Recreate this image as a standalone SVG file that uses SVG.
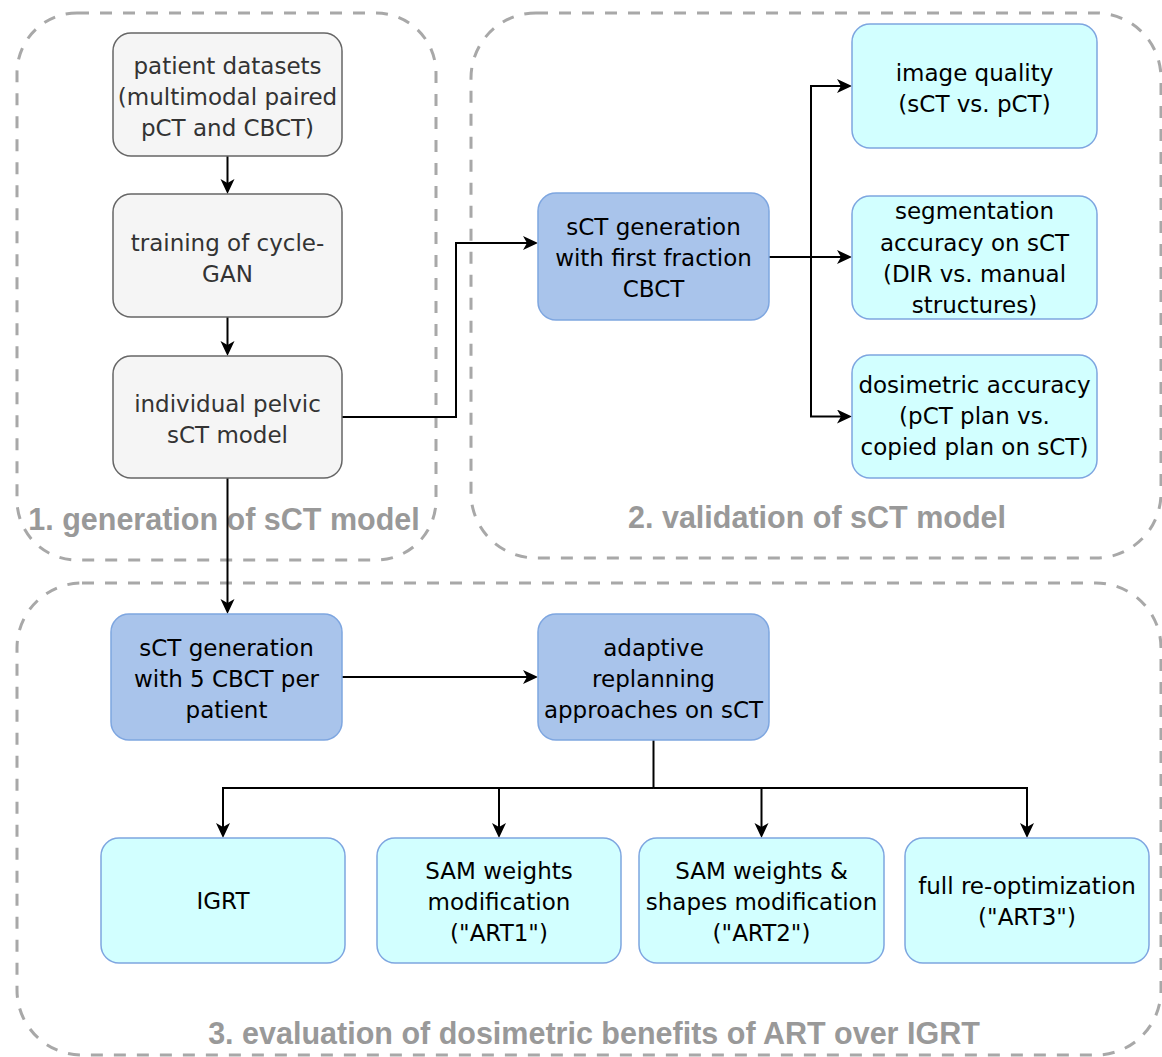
<svg xmlns="http://www.w3.org/2000/svg" width="1162" height="1057" viewBox="0 0 1162 1057">
<defs>
<style>
.grp{fill:none;stroke:#A8A8A8;stroke-width:3;stroke-dasharray:12 11}
.glabel{font-family:"Liberation Sans",Arial,sans-serif;font-weight:bold;font-size:30.5px;fill:#999999;text-anchor:middle}
.gray rect{fill:#F5F5F5;stroke:#666666;stroke-width:1.5}
.blue rect{fill:#A9C4EB;stroke:#7EA6E0;stroke-width:1.5}
.cyan rect{fill:#D2FFFF;stroke:#7EA6E0;stroke-width:1.5}
text.t{font-family:"DejaVu Sans",Verdana,sans-serif;font-size:23px;text-anchor:middle}
.gray text{fill:#333333}
.blue text,.cyan text{fill:#000000}
.conn path{fill:none;stroke:#000000;stroke-width:2;marker-end:url(#arr)}
.conn path.plain{marker-end:none}
</style>
<marker id="arr" markerUnits="userSpaceOnUse" markerWidth="18" markerHeight="18" refX="11" refY="7" orient="auto">
<path d="M0,0 L15,7 L0,14 L4,7 Z" fill="#000000"/>
</marker>
</defs>
<rect width="1162" height="1057" fill="#FFFFFF"/>

<g id="group1">
<rect class="grp" x="17" y="13" width="419" height="547" rx="60" ry="60"/>
<text class="glabel" x="224" y="530">1. generation of sCT model</text>
</g>
<g id="group2">
<rect class="grp" x="471" y="13" width="690" height="545" rx="65" ry="65"/>
<text class="glabel" x="817" y="528">2. validation of sCT model</text>
</g>
<g id="group3">
<rect class="grp" x="17" y="583" width="1144" height="472" rx="65" ry="65"/>
<text class="glabel" x="594" y="1044">3. evaluation of dosimetric benefits of ART over IGRT</text>
</g>

<g id="connectors" class="conn">
<path d="M227.5 156 V190"/>
<path d="M227.5 317 V352"/>
<path d="M342 417 H456 V243 H534"/>
<path d="M769 257 H848"/>
<path d="M811 257 V86 H848"/>
<path d="M811 257 V416.5 H848"/>
<path d="M227.5 478 V610"/>
<path d="M342 677 H534"/>
<path class="plain" d="M653.5 740 V788"/>
<path d="M653.5 788 H223 V834"/>
<path d="M653.5 788 H499 V834"/>
<path d="M653.5 788 H761.5 V834"/>
<path d="M653.5 788 H1027 V834"/>
</g>

<g id="node-patient-datasets" class="gray">
<rect x="113" y="33" width="229" height="123" rx="18" ry="18"/>
<text class="t" x="227.5" y="74">patient datasets</text>
<text class="t" x="227.5" y="105">(multimodal paired</text>
<text class="t" x="227.5" y="136">pCT and CBCT)</text>
</g>
<g id="node-training" class="gray">
<rect x="113" y="194" width="229" height="123" rx="18" ry="18"/>
<text class="t" x="227.5" y="251">training of cycle-</text>
<text class="t" x="227.5" y="282">GAN</text>
</g>
<g id="node-individual-model" class="gray">
<rect x="113" y="356" width="229" height="122" rx="18" ry="18"/>
<text class="t" x="227.5" y="412">individual pelvic</text>
<text class="t" x="227.5" y="443">sCT model</text>
</g>

<g id="node-sct-first-fraction" class="blue">
<rect x="538" y="193" width="231" height="127" rx="18" ry="18"/>
<text class="t" x="653.5" y="235">sCT generation</text>
<text class="t" x="653.5" y="266">with first fraction</text>
<text class="t" x="653.5" y="297">CBCT</text>
</g>

<g id="node-image-quality" class="cyan">
<rect x="852" y="24" width="245" height="124" rx="18" ry="18"/>
<text class="t" x="974.5" y="81">image quality</text>
<text class="t" x="974.5" y="112">(sCT vs. pCT)</text>
</g>
<g id="node-segmentation" class="cyan">
<rect x="852" y="196" width="245" height="123" rx="18" ry="18"/>
<text class="t" x="974.5" y="219">segmentation</text>
<text class="t" x="974.5" y="251">accuracy on sCT</text>
<text class="t" x="974.5" y="282">(DIR vs. manual</text>
<text class="t" x="974.5" y="313">structures)</text>
</g>
<g id="node-dosimetric" class="cyan">
<rect x="852" y="355" width="245" height="123" rx="18" ry="18"/>
<text class="t" x="974.5" y="393">dosimetric accuracy</text>
<text class="t" x="974.5" y="424">(pCT plan vs.</text>
<text class="t" x="974.5" y="455">copied plan on sCT)</text>
</g>

<g id="node-sct-5cbct" class="blue">
<rect x="111" y="614" width="231" height="126" rx="18" ry="18"/>
<text class="t" x="226.5" y="656">sCT generation</text>
<text class="t" x="226.5" y="687">with 5 CBCT per</text>
<text class="t" x="226.5" y="718">patient</text>
</g>
<g id="node-adaptive" class="blue">
<rect x="538" y="614" width="231" height="126" rx="18" ry="18"/>
<text class="t" x="653.5" y="656">adaptive</text>
<text class="t" x="653.5" y="687">replanning</text>
<text class="t" x="653.5" y="718">approaches on sCT</text>
</g>

<g id="node-igrt" class="cyan">
<rect x="101" y="838" width="244" height="125" rx="18" ry="18"/>
<text class="t" x="223" y="909">IGRT</text>
</g>
<g id="node-art1" class="cyan">
<rect x="377" y="838" width="244" height="125" rx="18" ry="18"/>
<text class="t" x="499" y="879">SAM weights</text>
<text class="t" x="499" y="910">modification</text>
<text class="t" x="499" y="941">("ART1")</text>
</g>
<g id="node-art2" class="cyan">
<rect x="639" y="838" width="245" height="125" rx="18" ry="18"/>
<text class="t" x="761.5" y="879">SAM weights &amp;</text>
<text class="t" x="761.5" y="910">shapes modification</text>
<text class="t" x="761.5" y="941">("ART2")</text>
</g>
<g id="node-art3" class="cyan">
<rect x="905" y="838" width="244" height="125" rx="18" ry="18"/>
<text class="t" x="1027" y="894">full re-optimization</text>
<text class="t" x="1027" y="925">("ART3")</text>
</g>
</svg>
